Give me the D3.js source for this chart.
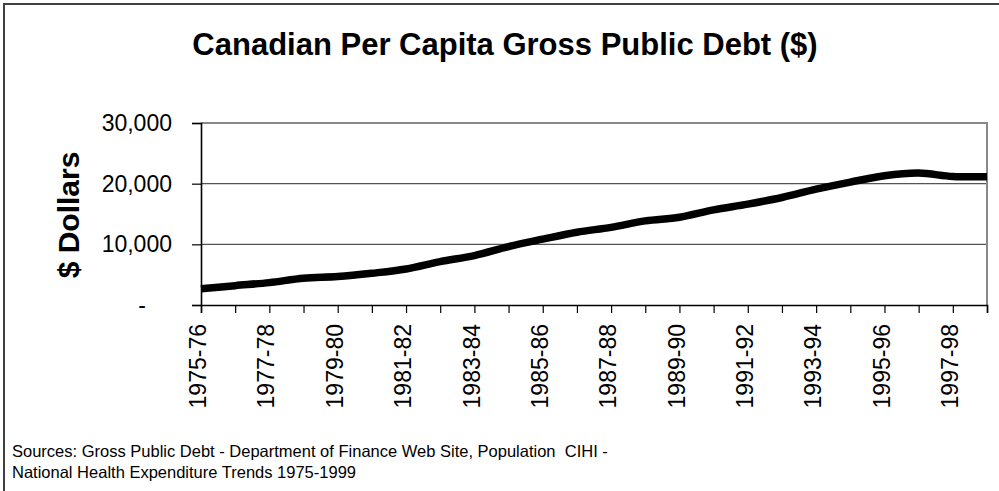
<!DOCTYPE html>
<html>
<head>
<meta charset="utf-8">
<script src="https://cdn.jsdelivr.net/npm/d3@7"></script>
<style>
  html, body { margin: 0; padding: 0; background: #fff; }
  svg { display: block; font-family: "Liberation Sans", Arial, sans-serif; }
</style>
</head>
<body>
<svg id="chart" width="999" height="491"></svg>
<script>
// Fiscal years (category axis)
const categories = [
  "1975-76", "1976-77", "1977-78", "1978-79", "1979-80", "1980-81",
  "1981-82", "1982-83", "1983-84", "1984-85", "1985-86", "1986-87",
  "1987-88", "1988-89", "1989-90", "1990-91", "1991-92", "1992-93",
  "1993-94", "1994-95", "1995-96", "1996-97", "1997-98", "1998-99"
];

// Gross public debt per capita, dollars
const debtPerCapita = [
  2670, 3190, 3690, 4400, 4680, 5230,
  5940, 7150, 8150, 9630, 10850, 12000,
  12800, 13870, 14470, 15680, 16620, 17720,
  19100, 20250, 21300, 21740, 21180, 21150
];

// Value axis ticks
const yTicks = [0, 10000, 20000, 30000];

const titleText = "Canadian Per Capita Gross Public Debt ($)";
const yAxisTitle = "$ Dollars";
const sourceLines = [
  "Sources: Gross Public Debt - Department of Finance Web Site, Population  CIHI -",
  "National Health Expenditure Trends 1975-1999"
];

const svg = d3.select("#chart");
const plot = { left: 201, right: 987, top: 123, bottom: 305 };

// Outer chart frame
svg.append("rect")
  .attr("x", 4).attr("y", 4)
  .attr("width", 1010).attr("height", 500)
  .attr("fill", "#fff")
  .attr("stroke", "#404040")
  .attr("stroke-width", 2);

const x = d3.scalePoint()
  .domain(categories)
  .range([plot.left, plot.right]);

const y = d3.scaleLinear()
  .domain([0, 30000])
  .range([plot.bottom, plot.top]);

// Title
svg.append("text")
  .attr("x", 505).attr("y", 55)
  .attr("text-anchor", "middle")
  .attr("font-size", 31)
  .attr("font-weight", "bold")
  .attr("fill", "#000")
  .text(titleText);

// Horizontal gridlines
svg.append("g")
  .selectAll("line")
  .data(yTicks.filter(d => d > 0 && d < 30000))
  .join("line")
  .attr("x1", plot.left).attr("x2", plot.right)
  .attr("y1", d => y(d)).attr("y2", d => y(d))
  .attr("stroke", "#555")
  .attr("stroke-width", 1.3);

// Plot area border (top and right in grey)
svg.append("path")
  .attr("d", `M${plot.left},${plot.top}H${plot.right}V${plot.bottom}`)
  .attr("fill", "none")
  .attr("stroke", "#888")
  .attr("stroke-width", 2);

// Value axis
const yAxis = d3.axisLeft(y)
  .tickValues(yTicks)
  .tickSize(9)
  .tickPadding(20)
  .tickFormat(d => d === 0 ? "-" : d3.format(",")(d));

const gy = svg.append("g")
  .attr("transform", `translate(${plot.left},0)`)
  .call(yAxis);
gy.select(".domain").attr("stroke", "#000").attr("stroke-width", 1.6);
gy.selectAll(".tick line").attr("stroke", "#000").attr("stroke-width", 1.2);
gy.selectAll(".tick text")
  .attr("font-size", 23)
  .attr("font-family", "'Liberation Sans', Arial, sans-serif")
  .attr("fill", "#000")
  .attr("x", d => d === 0 ? -55 : -29);

// Category axis
const xAxis = d3.axisBottom(x)
  .tickSize(8)
  .tickFormat((d, i) => i % 2 === 0 ? d : "");

const gx = svg.append("g")
  .attr("transform", `translate(0,${plot.bottom})`)
  .call(xAxis);
gx.select(".domain").attr("stroke", "#000").attr("stroke-width", 1.6);
gx.selectAll(".tick line").attr("stroke", "#000").attr("stroke-width", 1.2);
gx.selectAll(".tick text")
  .attr("font-size", 23)
  .attr("font-family", "'Liberation Sans', Arial, sans-serif")
  .attr("fill", "#000")
  .attr("text-anchor", "end")
  .attr("transform", "rotate(-90)")
  .attr("x", -19)
  .attr("y", 0)
  .attr("dy", "0.2em");

// Value axis title
svg.append("text")
  .attr("transform", "translate(79,215) rotate(-90)")
  .attr("text-anchor", "middle")
  .attr("font-size", 30)
  .attr("font-weight", "bold")
  .attr("fill", "#000")
  .text(yAxisTitle);

// Debt per capita line (smoothed)
const line = d3.line()
  .x((d, i) => x(categories[i]))
  .y(d => y(d))
  .curve(d3.curveCatmullRom.alpha(0.5));

svg.append("path")
  .datum(debtPerCapita)
  .attr("d", line)
  .attr("fill", "none")
  .attr("stroke", "#000")
  .attr("stroke-width", 7.5)
  .attr("stroke-linejoin", "round");

// Source note
svg.append("g")
  .selectAll("text")
  .data(sourceLines)
  .join("text")
  .attr("x", 12)
  .attr("y", (d, i) => 457 + i * 21)
  .attr("font-size", 16.5)
  .attr("fill", "#000")
  .style("white-space", "pre")
  .text(d => d);
</script>
</body>
</html>
